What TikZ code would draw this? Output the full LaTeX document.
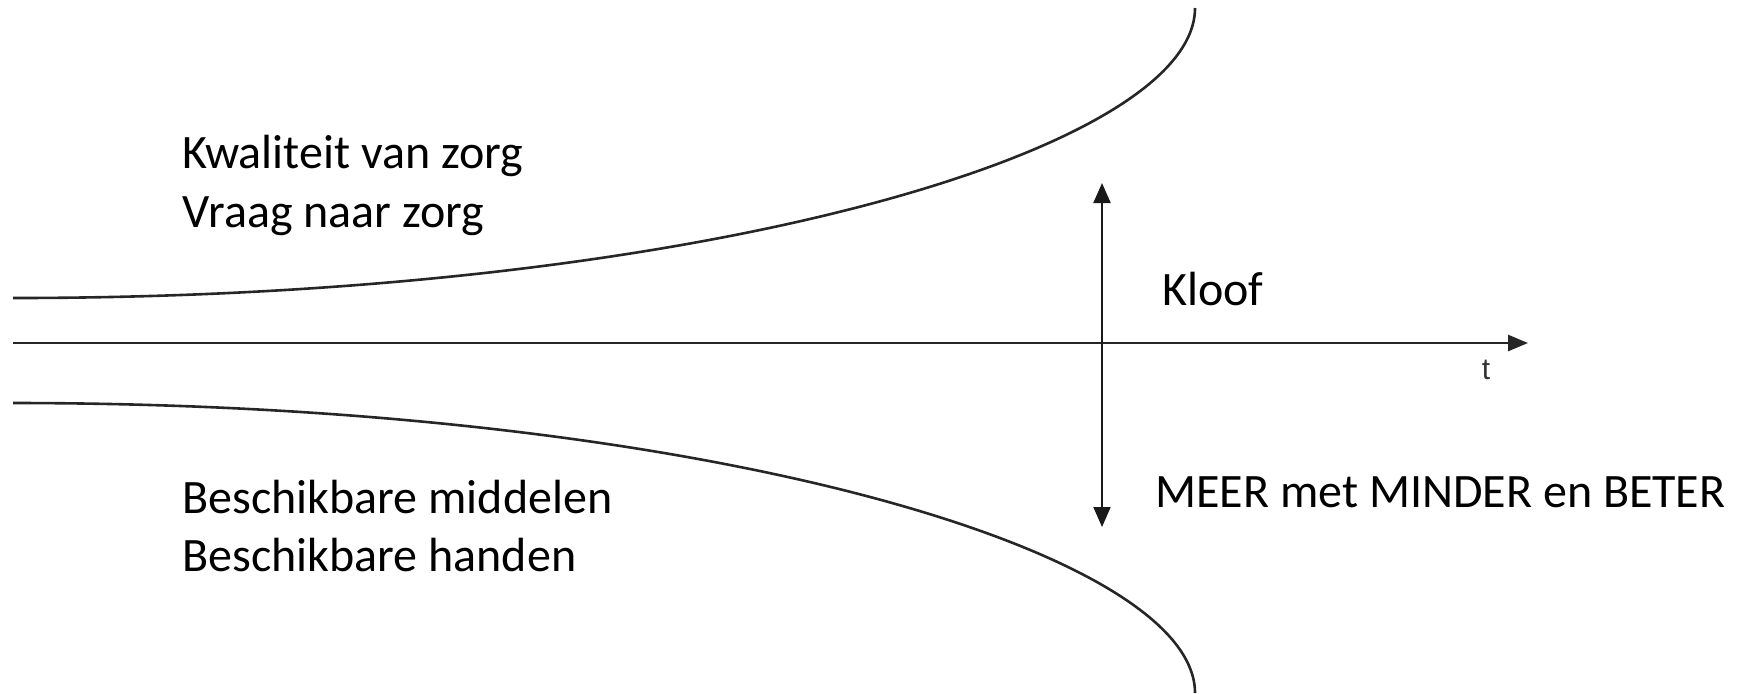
\documentclass[tikz,border=0pt]{standalone}
\usepackage{fontspec}
\setmainfont{Carlito}
\newfontfamily\axisfont{Liberation Sans}
\usetikzlibrary{arrows.meta}
\begin{document}
\begin{tikzpicture}[x=0.5pt,y=-0.5pt,
  curve/.style={line width=1.3pt, draw=black!85},
  axisline/.style={line width=1.3pt, draw=black!85, -{Triangle[length=10pt,width=8pt]}},
  gaparrow/.style={line width=1pt, draw=black!90, {Triangle[length=10pt,width=8.5pt]}-{Triangle[length=10pt,width=8.5pt]}},
  lbl/.style={anchor=base west, inner sep=0pt, font=\fontsize{24pt}{26pt}\selectfont},
  tlbl/.style={inner sep=0pt, text=black!80, font=\axisfont\fontsize{15pt}{17pt}\selectfont},
]
\useasboundingbox (0,0) rectangle (1739,693);

% upper and lower curves
\draw[curve] (13,298) .. controls (700,298) and (1195,150) .. (1195,8);
\draw[curve] (13,403) .. controls (700,403) and (1195,551) .. (1195,693);

% time axis
\coordinate (ax0) at (13,343);
\coordinate (ax1) at (1528,343);
\draw[axisline] (ax0) -- (ax1);
\node[tlbl] (t) at (1486,370) {t};

% gap arrow
\coordinate (vtop) at (1102,183);
\coordinate (vbot) at (1102,527);
\draw[gaparrow] (vtop) -- (vbot);

% labels
\node[lbl] (kwal) at (182,168) {Kwaliteit van zorg};
\node[lbl] (vraag) at (182,227) {Vraag naar zorg};
\node[lbl] (midd) at (182,513) {Beschikbare middelen};
\node[lbl] (hand) at (182,571) {Beschikbare handen};
\node[lbl] (kloof) at (1162,305) {Kloof};
\node[lbl] (meer) at (1155,507) {MEER met MINDER en BETER};
\end{tikzpicture}
\end{document}
